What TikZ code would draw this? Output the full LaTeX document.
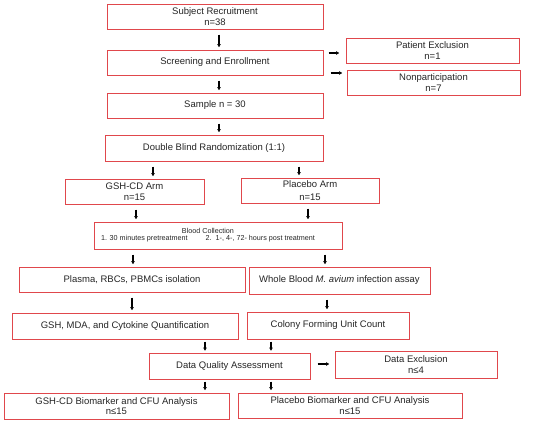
\documentclass[tikz,border=0pt]{standalone}
\usepackage{fontspec}
\setmainfont{Liberation Sans}
\usetikzlibrary{arrows.meta,calc}
\definecolor{boxred}{HTML}{E0474C}
\definecolor{txt}{HTML}{262626}
\begin{document}
\begin{tikzpicture}[x=1pt,y=-1pt,
  box/.style={draw=boxred, line width=1pt, rectangle, inner sep=0pt, align=center,
    text=txt, font=\fontsize{9.5}{10.5}\selectfont},
  arr/.style={-{Latex[length=3.5pt,width=4pt]}, line width=1.1pt, black, shorten <=5pt, shorten >=2pt}]
\useasboundingbox (0,0) rectangle (550,423);
\fill[white] (0,0) rectangle (550,423);

\node[box, minimum width=216pt, minimum height=25pt] (rec) at (215,16.5) {Subject Recruitment\\n=38};
\node[box, minimum width=216pt, minimum height=25pt] (scr) at (215,62.5) {Screening and Enrollment};
\node[box, minimum width=173pt, minimum height=25pt] (pex) at (432.5,50.5) {Patient Exclusion\\n=1};
\node[box, minimum width=173pt, minimum height=25pt] (non) at (433.5,82.5) {Nonparticipation\\n=7};
\node[box, minimum width=216pt, minimum height=25pt] (smp) at (215,105.5) {Sample n = 30};
\node[box, minimum width=218pt, minimum height=26pt] (dbr) at (214,148) {Double Blind Randomization (1:1)};
\node[box, minimum width=139pt, minimum height=25pt] (gsh) at (134.5,191.5) {GSH-CD Arm\\n=15};
\node[box, minimum width=138pt, minimum height=25pt, font=\fontsize{9.5}{12.5}\selectfont] (plc) at (310,190.5) {Placebo Arm\\n=15};
\node[box, minimum width=248pt, minimum height=27pt, font=\fontsize{7.2}{7.4}\selectfont] (bld) at (218,235.5)
  {\begin{tabular}{@{}c@{}}Blood Collection\\[-0.5pt]1. 30 minutes pretreatment\hspace{18pt}2.\ \ 1-, 4-, 72- hours post treatment\end{tabular}\hspace*{20pt}};
\node[box, minimum width=226pt, minimum height=25pt] (pls) at (132,279.5) {Plasma, RBCs, PBMCs isolation};
\node[box, minimum width=181pt, minimum height=27pt] (whb) at (339.5,280.5) {Whole Blood \textit{M. avium} infection assay};
\node[box, minimum width=226pt, minimum height=26pt] (mda) at (125,326) {GSH, MDA, and Cytokine Quantification};
\node[box, minimum width=162pt, minimum height=27pt] (cfu) at (328,325.5) {Colony Forming Unit Count};
\node[box, minimum width=161pt, minimum height=26pt] (dqa) at (229.5,366) {Data Quality Assessment};
\node[box, minimum width=162pt, minimum height=27pt] (dex) at (416,364.5) {Data Exclusion\\n≤4};
\node[box, minimum width=225pt, minimum height=26pt] (gba) at (116.5,406) {GSH-CD Biomarker and CFU Analysis\\n≤15};
\node[box, minimum width=224pt, minimum height=25pt] (pba) at (350,405.5) {Placebo Biomarker and CFU Analysis\\n≤15};

\draw[arr] (rec.south -| 219,0) -- (scr.north -| 219,0);
\draw[arr] (scr.south -| 219,0) -- (smp.north -| 219,0);
\draw[arr] (smp.south -| 219,0) -- (dbr.north -| 219,0);
\draw[arr, shorten >=6pt] (scr.east |- 0,53) -- (pex.west |- 0,53);
\draw[arr, shorten >=4pt, shorten <=7pt] (scr.east |- 0,73) -- (non.west |- 0,73);
\draw[arr] (dbr.south -| 153,0) -- (gsh.north -| 153,0);
\draw[arr] (dbr.south -| 299,0) -- (plc.north -| 299,0);
\draw[arr] (gsh.south -| 136,0) -- (bld.north -| 136,0);
\draw[arr] (plc.south -| 308,0) -- (bld.north -| 308,0);
\draw[arr] (bld.south -| 133,0) -- (pls.north -| 133,0);
\draw[arr] (bld.south -| 325,0) -- (whb.north -| 325,0);
\draw[arr] (pls.south -| 132,0) -- (mda.north -| 132,0);
\draw[arr] (whb.south -| 327,0) -- (cfu.north -| 327,0);
\draw[arr, shorten <=2pt, shorten >=1.5pt] (mda.south -| 205,0) -- (dqa.north -| 205,0);
\draw[arr, shorten <=2pt, shorten >=1.5pt] (cfu.south -| 271,0) -- (dqa.north -| 271,0);
\draw[arr, shorten >=5pt, shorten <=7pt] (dqa.east |- 0,364) -- (dex.west |- 0,364);
\draw[arr, shorten <=2pt] (dqa.south -| 205,0) -- (gba.north -| 205,0);
\draw[arr, shorten <=2pt] (dqa.south -| 271,0) -- (pba.north -| 271,0);
\end{tikzpicture}
\end{document}
